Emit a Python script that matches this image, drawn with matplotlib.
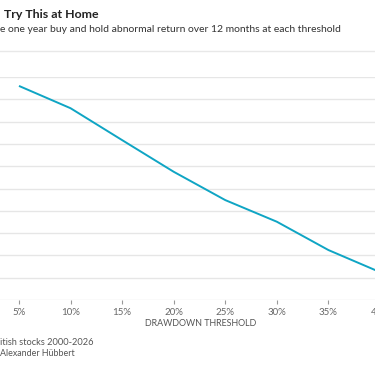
import matplotlib
matplotlib.use("Agg")
import matplotlib.pyplot as plt
from matplotlib.lines import Line2D

# drawdown threshold (%) and abnormal return (%)
threshold = [5, 10, 15, 20, 25, 30, 35, 40]
abn_return = [-0.4, -1.4, -2.83, -4.25, -5.52, -6.49, -7.76, -8.75]
xticks = [5, 10, 15, 20, 25, 30, 35, 40]
xticklabels = ["5%", "10%", "15%", "20%", "25%", "30%", "35%", "40%"]

plt.rcParams['font.family'] = ['Lato', 'DejaVu Sans']

W, H = 375, 366
fig = plt.figure(figsize=(W / 100, H / 100), dpi=100)

# axes extends past the left/right edge, like the cropped original
x0_px, x40_px = -32.6, 380.0
top_px, bot_px = 77, 300
ax = fig.add_axes([x0_px / W, (H - bot_px) / H, (x40_px - x0_px) / W, (bot_px - top_px) / H])
ax.plot(threshold, abn_return, color='#0fa5c4', lw=1.4, solid_capstyle='butt')
ax.set_xlim(0, 40)
ax.set_ylim(-10, 0)
ax.set_yticks(range(-10, 1))
ax.yaxis.grid(True, color='#e6e6e6', lw=1)
ax.set_axisbelow(True)
for s in ax.spines.values():
    s.set_visible(False)
ax.tick_params(axis='y', left=False, labelleft=False)
ax.set_xticks(xticks)
ax.set_xticklabels(xticklabels)
ax.tick_params(axis='x', length=3, width=0.8, color='#999999', labelcolor='#666666',
               labelsize=7, pad=3)

renderer = fig.canvas.get_renderer()


def fitted_text(x_px, y_px, s, width_px, ha='left', **kw):
    # shrink/grow the font so the text spans about width_px like in the original
    t = fig.text(x_px / W, 1 - y_px / H, s, va='center', ha=ha, **kw)
    w = t.get_window_extent(renderer).width
    t.set_fontsize(t.get_fontsize() * width_px / w)
    return t


fitted_text(4, 15, "Try This at Home", 95, fontsize=9, fontweight='bold', color='#222222')
fitted_text(0, 29, "e one year buy and hold abnormal return over 12 months at each threshold",
            340, fontsize=7.5, color='#333333')
fig.add_artist(Line2D([0, 1], [1 - 51 / H, 1 - 51 / H], color='#e8e8e8', lw=1,
                      transform=fig.transFigure))

fig.text(200.5 / W, 1 - 324 / H, "DRAWDOWN THRESHOLD", fontsize=6.4, color='#555555',
         va='center', ha='center')

# footer
fitted_text(0, 342.5, "itish stocks 2000-2026", 93, fontsize=7.3, color='#555555')
fitted_text(0, 354, "Alexander H\u00fcbbert", 75, fontsize=7.3, color='#555555')

fig.savefig("out.png", dpi=100)
